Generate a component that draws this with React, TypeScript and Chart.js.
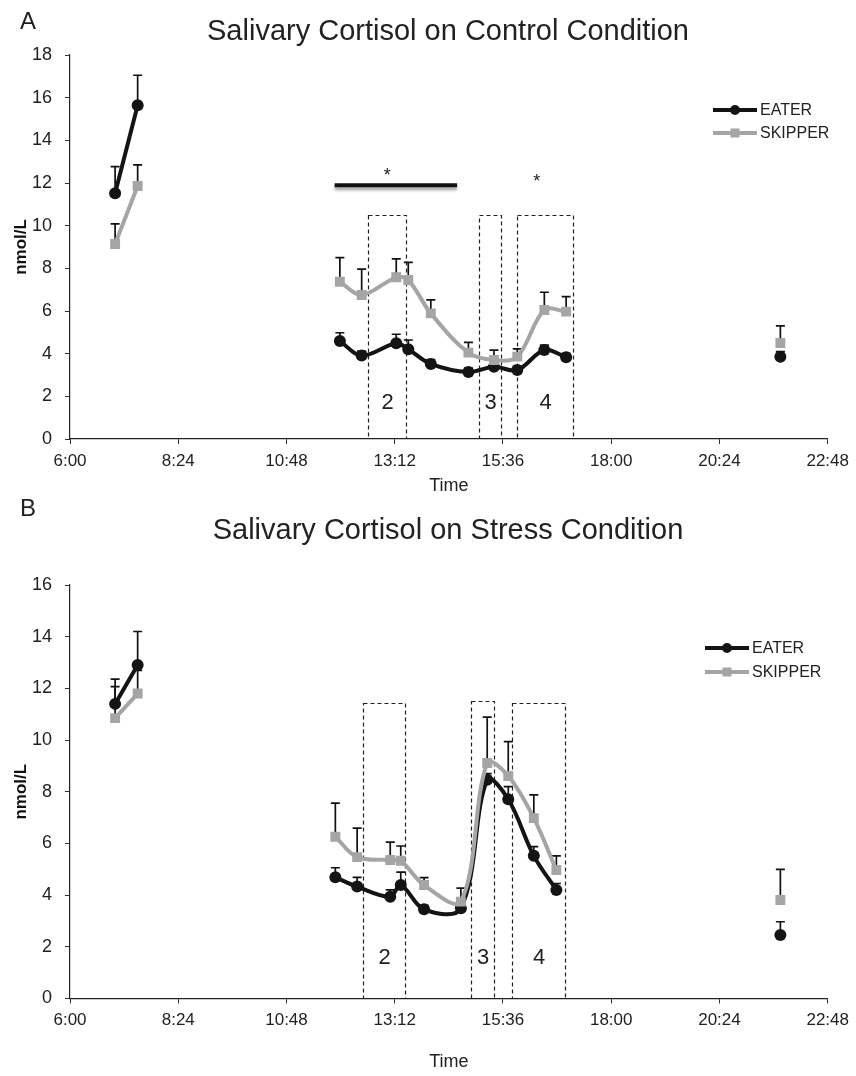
import React, { useEffect, useRef } from "react";
import { Chart, registerables } from "chart.js";

Chart.register(...registerables);

const PAGE_W = 856;
const PAGE_H = 1076;
const FONT = '"Liberation Sans", Arial, Helvetica, sans-serif';

// Shared time axis (minutes after midnight)
const X_MIN = 360; // 6:00
const X_MAX = 1368; // 22:48
const X_STEP = 144; // 2h24
const SERIES_NAMES = ["EATER", "SKIPPER"];
const EATER_COLOR = "#141414";
const SKIPPER_COLOR = "#a5a5a5";

// ---------- Panel A : Control condition ----------
const A_TIMES = [420, 450, 719, 748, 794, 810, 840, 890, 924, 955, 991, 1020, 1305];
const A_EATER = [11.52, 15.65, 4.59, 3.91, 4.49, 4.21, 3.52, 3.14, 3.39, 3.23, 4.17, 3.83, 3.85];
const A_EATER_ERR = [12.77, 17.05, 4.98, 4.12, 4.91, 4.64, 3.72, 3.32, 3.58, 3.42, 4.4, 4.02, 4.1];
const A_SKIPPER = [9.14, 11.86, 7.37, 6.75, 7.58, 7.45, 5.89, 4.05, 3.7, 3.86, 6.05, 5.97, 4.5];
const A_SKIPPER_ERR = [10.08, 12.85, 8.5, 7.96, 8.44, 8.28, 6.52, 4.53, 4.17, 4.22, 6.88, 6.67, 5.3];
const A_SEGMENT_STARTS = [2, 12];
const A_BOX_START = [756, 904, 954];
const A_BOX_END = [807, 933, 1029];
const A_BOX_TOP = [10.5, 10.5, 10.5];
const A_BOX_LABELS = ["2", "3", "4"];
const A_BOX_LABEL_VALUE = 1.67;
const A_SIG_BAR = [712, 875]; // time range of significance bar
const A_SIG_BAR_VALUE = 11.9;
const A_STAR_TIMES = [782, 981];
const A_STAR_VALUES = [12.45, 12.2];

// ---------- Panel B : Stress condition ----------
const B_TIMES = [420, 450, 713, 742, 786, 800, 831, 880, 915, 943, 977, 1007, 1305];
const B_EATER = [11.4, 12.9, 4.69, 4.33, 3.94, 4.39, 3.45, 3.49, 8.46, 7.71, 5.52, 4.2, 2.46];
const B_EATER_ERR = [12.36, 14.2, 5.06, 4.69, 4.2, 4.89, 3.6, 3.6, 8.7, 8.2, 5.88, 4.45, 2.97];
const B_SKIPPER = [10.85, 11.8, 6.26, 5.47, 5.36, 5.33, 4.39, 3.75, 9.11, 8.61, 6.98, 4.97, 3.81];
const B_SKIPPER_ERR = [12.07, 12.7, 7.56, 6.59, 6.05, 5.9, 4.68, 4.27, 10.89, 9.94, 7.88, 5.52, 5.0];
const B_SEGMENT_STARTS = [2, 12];
const B_BOX_START = [750, 893, 948];
const B_BOX_END = [805, 924, 1019];
const B_BOX_TOP = [11.43, 11.52, 11.43];
const B_BOX_LABELS = ["2", "3", "4"];
const B_BOX_LABEL_VALUE = 1.57;

const fmtTime = (v: number) => {
  const h = Math.floor(v / 60);
  const m = Math.round(v - h * 60);
  return `${h}:${String(m).padStart(2, "0")}`;
};

function toPoints(times: number[], values: number[], starts: number[]) {
  const pts: { x: number; y: number | null }[] = [];
  times.forEach((t, i) => {
    if (starts.includes(i)) pts.push({ x: (times[i - 1] + t) / 2, y: null });
    pts.push({ x: t, y: values[i] });
  });
  return pts;
}

type Panel = {
  letter: string;
  title: string;
  letterY: number;
  titleY: number;
  yMax: number;
  plotTop: number;
  plotBottom: number;
  sectionBottom: number;
  timePad: number;
  times: number[];
  eater: number[];
  eaterErr: number[];
  skipper: number[];
  skipperErr: number[];
  starts: number[];
  boxStart: number[];
  boxEnd: number[];
  boxTop: number[];
  boxLabels: string[];
  boxLabelValue: number;
  sigBar?: number[];
  sigBarValue?: number;
  starTimes?: number[];
  starValues?: number[];
  legendX: number;
  legendY: number[];
};

const PANELS: Panel[] = [
  {
    letter: "A",
    title: "Salivary Cortisol on Control Condition",
    letterY: 22,
    titleY: 32,
    yMax: 18,
    plotTop: 55,
    plotBottom: 439,
    sectionBottom: 508,
    timePad: 11,
    times: A_TIMES,
    eater: A_EATER,
    eaterErr: A_EATER_ERR,
    skipper: A_SKIPPER,
    skipperErr: A_SKIPPER_ERR,
    starts: A_SEGMENT_STARTS,
    boxStart: A_BOX_START,
    boxEnd: A_BOX_END,
    boxTop: A_BOX_TOP,
    boxLabels: A_BOX_LABELS,
    boxLabelValue: A_BOX_LABEL_VALUE,
    sigBar: A_SIG_BAR,
    sigBarValue: A_SIG_BAR_VALUE,
    starTimes: A_STAR_TIMES,
    starValues: A_STAR_VALUES,
    legendX: 713,
    legendY: [110, 133],
  },
  {
    letter: "B",
    title: "Salivary Cortisol on Stress Condition",
    letterY: 509,
    titleY: 531,
    yMax: 16,
    plotTop: 585,
    plotBottom: 998.5,
    sectionBottom: PAGE_H,
    timePad: 3,
    times: B_TIMES,
    eater: B_EATER,
    eaterErr: B_EATER_ERR,
    skipper: B_SKIPPER,
    skipperErr: B_SKIPPER_ERR,
    starts: B_SEGMENT_STARTS,
    boxStart: B_BOX_START,
    boxEnd: B_BOX_END,
    boxTop: B_BOX_TOP,
    boxLabels: B_BOX_LABELS,
    boxLabelValue: B_BOX_LABEL_VALUE,
    legendX: 705,
    legendY: [648, 672],
  },
];

function makeOverlay(p: Panel) {
  return {
    id: "overlay" + p.letter,
    beforeDatasetsDraw(chart: any) {
      const { ctx, scales } = chart;
      const x = scales.x;
      const y = scales.y;
      ctx.save();
      // dashed boxes
      ctx.setLineDash([4, 3]);
      ctx.lineWidth = 1.2;
      ctx.strokeStyle = "#222";
      p.boxStart.forEach((s, i) => {
        const x1 = Math.round(x.getPixelForValue(s)) + 0.5;
        const x2 = Math.round(x.getPixelForValue(p.boxEnd[i])) + 0.5;
        const y1 = Math.round(y.getPixelForValue(p.boxTop[i])) + 0.5;
        const y2 = Math.round(y.getPixelForValue(0)) - 0.5;
        ctx.strokeRect(x1, y1, x2 - x1, y2 - y1);
        ctx.fillStyle = "#222";
        ctx.font = `22px ${FONT}`;
        ctx.textAlign = "center";
        ctx.textBaseline = "middle";
        ctx.fillText(p.boxLabels[i], (x1 + x2) / 2, y.getPixelForValue(p.boxLabelValue));
      });
      ctx.setLineDash([]);
      // significance bar & stars
      if (p.sigBar && p.sigBarValue != null) {
        ctx.save();
        ctx.shadowColor = "rgba(0,0,0,0.35)";
        ctx.shadowBlur = 3;
        ctx.shadowOffsetY = 3;
        ctx.strokeStyle = "#111";
        ctx.lineWidth = 4;
        ctx.beginPath();
        const by = y.getPixelForValue(p.sigBarValue);
        ctx.moveTo(x.getPixelForValue(p.sigBar[0]), by);
        ctx.lineTo(x.getPixelForValue(p.sigBar[1]), by);
        ctx.stroke();
        ctx.restore();
      }
      if (p.starTimes && p.starValues) {
        ctx.fillStyle = "#222";
        ctx.font = `18px ${FONT}`;
        ctx.textAlign = "center";
        ctx.textBaseline = "middle";
        p.starTimes.forEach((t, i) => {
          ctx.fillText("*", x.getPixelForValue(t), y.getPixelForValue(p.starValues![i]) + 3);
        });
      }
      // error bars (upper only)
      ctx.strokeStyle = "#111";
      ctx.lineWidth = 1.7;
      const bars = (vals: number[], errs: number[]) => {
        p.times.forEach((t, i) => {
          const px = x.getPixelForValue(t);
          const py = y.getPixelForValue(vals[i]);
          const pe = y.getPixelForValue(errs[i]);
          ctx.beginPath();
          ctx.moveTo(px, py);
          ctx.lineTo(px, pe);
          ctx.moveTo(px - 4.5, pe);
          ctx.lineTo(px + 4.5, pe);
          ctx.stroke();
        });
      };
      bars(p.eater, p.eaterErr);
      bars(p.skipper, p.skipperErr);
      ctx.restore();
    },
    afterDraw(chart: any) {
      const { ctx } = chart;
      ctx.save();
      ctx.fillStyle = "#222";
      ctx.textBaseline = "middle";
      ctx.textAlign = "left";
      ctx.font = `24px ${FONT}`;
      ctx.fillText(p.letter, 20, p.letterY);
      ctx.textAlign = "center";
      ctx.font = `29px ${FONT}`;
      ctx.fillText(p.title, 448, p.titleY);
      // legend
      const colors = [EATER_COLOR, SKIPPER_COLOR];
      SERIES_NAMES.forEach((name, i) => {
        const ly = p.legendY[i];
        ctx.strokeStyle = colors[i];
        ctx.fillStyle = colors[i];
        ctx.lineWidth = 4;
        ctx.beginPath();
        ctx.moveTo(p.legendX, ly);
        ctx.lineTo(p.legendX + 44, ly);
        ctx.stroke();
        const cx = p.legendX + 22;
        if (i === 0) {
          ctx.beginPath();
          ctx.arc(cx, ly, 5, 0, Math.PI * 2);
          ctx.fill();
        } else {
          ctx.fillRect(cx - 4.5, ly - 4.5, 9, 9);
        }
        ctx.fillStyle = "#222";
        ctx.textAlign = "left";
        ctx.font = `16px ${FONT}`;
        ctx.fillText(name, p.legendX + 47, ly + 1);
      });
      ctx.restore();
    },
  };
}

function PanelChart({ p }: { p: Panel }) {
  const ref = useRef<HTMLCanvasElement>(null);
  useEffect(() => {
    const gridCfg = {
      display: true,
      drawOnChartArea: false,
      drawTicks: true,
      tickLength: 5,
      color: "#333",
      lineWidth: 1,
    };
    const chart = new Chart(ref.current as HTMLCanvasElement, {
      type: "line",
      data: {
        datasets: [
          {
            label: SERIES_NAMES[1],
            data: toPoints(p.times, p.skipper, p.starts) as any,
            borderColor: SKIPPER_COLOR,
            backgroundColor: SKIPPER_COLOR,
            borderWidth: 4,
            pointStyle: "rect",
            pointRadius: 7,
            pointBorderWidth: 0,
            pointBackgroundColor: SKIPPER_COLOR,
            tension: 0.35,
            spanGaps: false,
          },
          {
            label: SERIES_NAMES[0],
            data: toPoints(p.times, p.eater, p.starts) as any,
            borderColor: EATER_COLOR,
            backgroundColor: EATER_COLOR,
            borderWidth: 4,
            pointStyle: "circle",
            pointRadius: 6,
            pointBorderWidth: 0,
            pointBackgroundColor: EATER_COLOR,
            tension: 0.35,
            spanGaps: false,
          },
        ],
      },
      options: {
        responsive: false,
        animation: false,
        events: [],
        layout: {
          padding: {
            top: p.plotTop,
            left: 0,
            right: PAGE_W - 829,
            bottom: PAGE_H - p.sectionBottom,
          },
        },
        plugins: {
          legend: { display: false },
          tooltip: { enabled: false },
          title: { display: false },
        },
        scales: {
          x: {
            type: "linear",
            min: X_MIN,
            max: X_MAX,
            offset: false,
            afterFit: (s: any) => {
              s.height = p.sectionBottom - p.plotBottom;
            },
            ticks: {
              stepSize: X_STEP,
              autoSkip: false,
              maxRotation: 0,
              color: "#222",
              font: { family: FONT, size: 17 },
              padding: 7,
              callback: (v: any) => fmtTime(Number(v)),
            },
            grid: gridCfg,
            border: { display: true, color: "#222", width: 1.2 },
            title: {
              display: true,
              text: "Time",
              color: "#222",
              font: { family: FONT, size: 18 },
              padding: { top: 0, bottom: p.timePad },
            },
          },
          y: {
            type: "linear",
            min: 0,
            max: p.yMax,
            afterFit: (s: any) => {
              s.width = 70;
            },
            ticks: {
              stepSize: 2,
              color: "#222",
              font: { family: FONT, size: 18 },
              padding: 13,
            },
            grid: gridCfg,
            border: { display: true, color: "#222", width: 1.2 },
            title: {
              display: true,
              text: "nmol/L",
              color: "#111",
              font: { family: FONT, size: 17, weight: "bold" },
              padding: { top: 11, bottom: 0 },
            },
          },
        },
      } as any,
      plugins: [makeOverlay(p)],
    });
    return () => chart.destroy();
  }, [p]);
  return (
    <canvas
      ref={ref}
      width={PAGE_W}
      height={PAGE_H}
      style={{ position: "absolute", left: 0, top: 0, width: PAGE_W, height: PAGE_H }}
    />
  );
}

export default function App() {
  return (
    <div
      style={{
        position: "absolute",
        left: 0,
        top: 0,
        width: PAGE_W,
        height: PAGE_H,
        background: "#fff",
        overflow: "hidden",
      }}
    >
      {PANELS.map((p) => (
        <PanelChart key={p.letter} p={p} />
      ))}
    </div>
  );
}
